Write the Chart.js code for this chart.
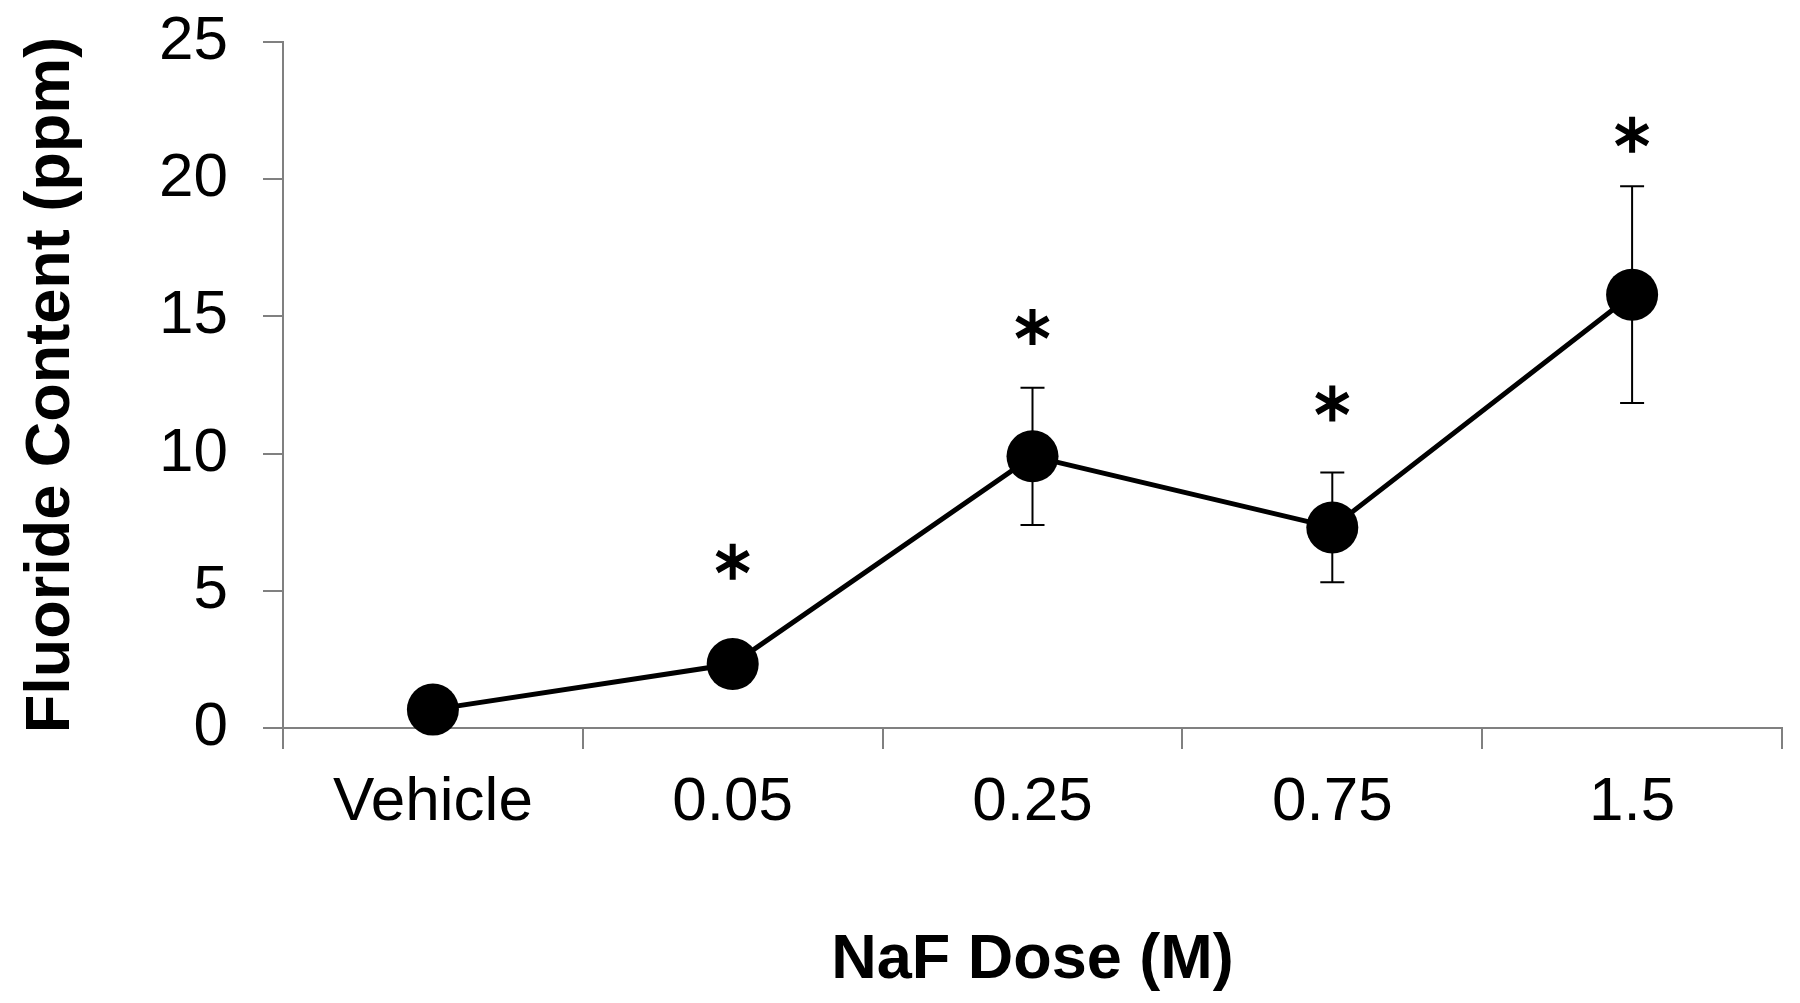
<!DOCTYPE html>
<html>
<head>
<meta charset="utf-8">
<script src="https://cdn.jsdelivr.net/npm/chart.js@4.4.1/dist/chart.umd.min.js"></script>
<style>
  html, body { margin: 0; padding: 0; background: #fff; }
</style>
</head>
<body>
<canvas id="chart" width="1800" height="1003"></canvas>
<script>
let doses = ['Vehicle', '0.05', '0.25', '0.75', '1.5'];
let fluoride = [0.67, 2.33, 9.90, 7.31, 15.79];
let fluorideErr = [0.4, 0.6, 2.5, 2.0, 3.95];
// height (in ppm) where the significance asterisk sits, null = none
let starLevels = [null, 6.06, 14.61, 11.83, 21.62];
let yTicks = [0, 5, 10, 15, 20, 25];

let axisGray = '#808080';

// six-armed asterisk
function drawStar(ctx, cx, cy, r) {
    ctx.beginPath();
    for (let k = 0; k < 3; k++) {
        let a = Math.PI / 2 + k * Math.PI / 3;
        ctx.moveTo(cx + r * Math.cos(a), cy - r * Math.sin(a));
        ctx.lineTo(cx - r * Math.cos(a), cy + r * Math.sin(a));
    }
    ctx.stroke();
}

let errorBars = {
    id: 'errorBars',
    beforeDatasetsDraw(chart) {
        let ctx = chart.ctx, x = chart.scales.x, y = chart.scales.y;
        ctx.save();
        ctx.strokeStyle = '#000';
        ctx.lineWidth = 2;
        fluoride.forEach((v, i) => {
            let px = x.getPixelForValue(i);
            let top = y.getPixelForValue(v + fluorideErr[i]);
            let bot = y.getPixelForValue(v - fluorideErr[i]);
            ctx.beginPath();
            ctx.moveTo(px, top); ctx.lineTo(px, bot);
            ctx.moveTo(px - 12, top); ctx.lineTo(px + 12, top);
            ctx.moveTo(px - 12, bot); ctx.lineTo(px + 12, bot);
            ctx.stroke();
        });
        ctx.restore();
    },
    afterDatasetsDraw(chart) {
        let ctx = chart.ctx, x = chart.scales.x, y = chart.scales.y;
        ctx.save();
        ctx.strokeStyle = '#000';
        ctx.lineWidth = 6;
        starLevels.forEach((s, i) => {
            if (s === null) return;
            drawStar(ctx, x.getPixelForValue(i), y.getPixelForValue(s), 18);
        });
        ctx.restore();
    }
};

let chart = new Chart(document.getElementById('chart').getContext('2d'), {
    type: 'line',
    data: {
        labels: doses,
        datasets: [{
            data: fluoride,
            borderColor: '#000',
            borderWidth: 5,
            pointRadius: 26,
            pointHoverRadius: 26,
            pointBackgroundColor: '#000',
            pointBorderWidth: 0,
            tension: 0,
            clip: false
        }]
    },
    options: {
        responsive: false,
        animation: false,
        layout: { autoPadding: false, padding: { top: 42, right: 18, left: 0, bottom: 0 } },
        plugins: { legend: { display: false }, tooltip: { enabled: false } },
        scales: {
            x: {
                offset: true,
                grid: { offset: true, drawOnChartArea: false, drawTicks: true, tickLength: 21, color: axisGray, lineWidth: 2 },
                border: { display: true, color: axisGray, width: 2 },
                ticks: { color: '#000', padding: 17, font: { family: '"Liberation Sans", Arial, sans-serif', size: 62 } },
                title: {
                    display: true,
                    text: 'NaF Dose (M)',
                    color: '#000',
                    padding: { top: 60, bottom: 5 },
                    font: { family: '"Liberation Sans", Arial, sans-serif', size: 63, weight: 'bold' }
                },
                afterFit(scale) {
                    scale.height = 275;
                    scale.paddingLeft = 0;
                    scale.paddingRight = 0;
                }
            },
            y: {
                min: 0,
                max: 25,
                afterBuildTicks(scale) { scale.ticks = yTicks.map(v => ({ value: v })); },
                grid: { drawOnChartArea: false, drawTicks: true, tickLength: 20, color: axisGray, lineWidth: 2 },
                border: { display: true, color: axisGray, width: 2 },
                ticks: { color: '#000', padding: 35, font: { family: '"Liberation Sans", Arial, sans-serif', size: 62 } },
                title: {
                    display: true,
                    text: 'Fluoride Content (ppm)',
                    color: '#000',
                    padding: { top: 14, bottom: 0 },
                    font: { family: '"Liberation Sans", Arial, sans-serif', size: 63, weight: 'bold' }
                },
                afterFit(scale) {
                    scale.width = 283;
                    scale.paddingTop = 0;
                    scale.paddingBottom = 0;
                }
            }
        }
    },
    plugins: [errorBars]
});
</script>
</body>
</html>
